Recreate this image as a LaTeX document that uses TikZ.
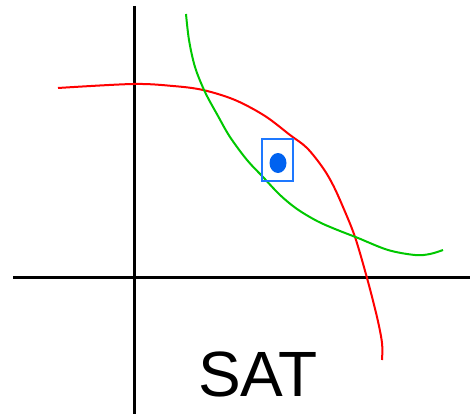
\documentclass[tikz,border=0pt]{standalone}
\usepackage{fontspec}
\setmainfont{Liberation Sans}
\usepackage{xcolor}
\usetikzlibrary{shapes.geometric}

\definecolor{boxblue}{RGB}{30,120,255}
\definecolor{dotblue}{RGB}{0,98,240}
\definecolor{curvegreen}{RGB}{0,200,0}

\begin{document}
\begin{tikzpicture}[
            x=1pt, y=-1pt,                      % un punto por pixel, y hacia abajo
            axis/.style={
                draw=black,
                line width=2.4pt
            },
            curve/.style={
                line width=2pt,
                smooth,
                tension=0.55
            },
            region/.style={
                rectangle,
                draw=boxblue,
                line width=1.8pt,
                minimum width=31pt,
                minimum height=42pt
            },
            point/.style={
                ellipse,
                fill=dotblue,
                inner sep=0pt,
                minimum width=17pt,
                minimum height=20pt
            }
        ]
            \useasboundingbox (0,0) rectangle (470,414);

            % --- EJES ---
            \coordinate (x_left) at (13,277.5);
            \coordinate (x_right) at (470,277.5);
            \coordinate (y_top) at (134,6);
            \coordinate (y_bottom) at (134,414);
            \draw [axis, line width=2.2pt] (x_left) -- (x_right);
            \draw [axis, line width=3pt] (y_top) -- (y_bottom);

            % --- CURVAS ---
            \draw [curve, red] plot coordinates {
                (58,88) (133,84) (173,86) (203,90) (235,100) (265,116)
                (290,135) (307,148) (323,168) (333,185) (343,207)
                (355,237) (367,278) (377,317) (382,343) (382,360)
            };
            \draw [curve, curvegreen] plot coordinates {
                (186,14) (189,40) (195,67) (205,92) (218,116) (230,137)
                (247,160) (263,177) (280,195) (297,209) (317,221)
                (335,229) (358,238) (388,250) (415,255) (430,254) (443,250)
            };

            % --- SOLUCION ---
            \node [region] (box) at (277.5,160) {};
            \node [point] (sol) at (278,163) {};

            % --- ETIQUETA ---
            \node [anchor=base, inner sep=0pt, font=\fontsize{64}{64}\selectfont] (sat) at (258,396) {SAT};
        \end{tikzpicture}
\end{document}
